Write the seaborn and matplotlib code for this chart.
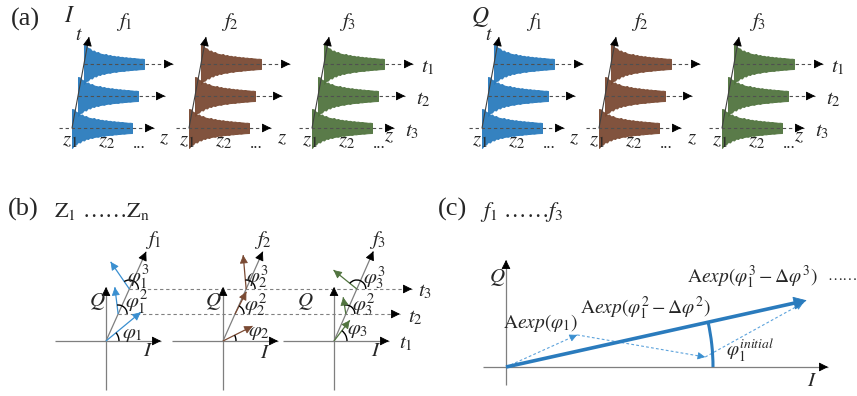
import matplotlib
matplotlib.use("Agg")
import numpy as np
import matplotlib.pyplot as plt
from matplotlib.patches import Arc
import seaborn as sns

sns.set_style("white")
plt.rcParams["font.family"] = ["Liberation Serif", "DejaVu Serif"]
plt.rcParams["mathtext.fontset"] = "stix"

W, H = 857, 396

# ---------------- values ----------------
channel_labels = ["$I$", "$Q$"]
freq_labels = ["$f_1$", "$f_2$", "$f_3$"]
time_labels = ["$t_1$", "$t_2$", "$t_3$"]
freq_colors = ["#2a7bbd", "#7a4a33", "#51743f"]
phasor_colors = ["#3a8fd0", "#7a4a33", "#51743f"]

# decaying echo envelope along z (half amplitude above / below the baseline), every 2 px
env_upper = [19, 18.5, 16, 15.5, 13, 13.5, 11.5, 12, 10.5, 10, 9.5, 10, 8.5, 9, 8,
             8.2, 7.4, 7.8, 7, 7.2, 6.5, 6.8, 6.2, 6.4, 5.8, 6, 5.6, 5.5, 5.2, 5.3, 5]
env_lower = [20, 17, 16.5, 14, 14.5, 12, 12.5, 10.5, 11, 9.5, 10, 9, 8.6, 8.8, 8,
             7.6, 7.9, 7.2, 7, 6.8, 6.9, 6.3, 6.4, 6, 5.9, 5.6, 5.7, 5.4, 5.2, 5.1, 5]

# phasor angle (deg) and length at t1, t2, t3 for f1, f2, f3
phase_deg = [[39.6, 97, 124.6], [26.6, 63, 95], [52.7, 99, 141]]
phase_len = [[45, 27, 33], [33, 25, 34], [26, 17, 30]]
phase_labels = [[r"$\varphi_1$", r"$\varphi_1^2$", r"$\varphi_1^3$"],
                [r"$\varphi_2$", r"$\varphi_2^2$", r"$\varphi_2^3$"],
                [r"$\varphi_3$", r"$\varphi_3^2$", r"$\varphi_3^3$"]]
freq_axis_deg = [65.8, 66.0, 66.3]

# coherent accumulation in (c)
step_deg = [24.3, -9.8, 28.9]
step_len = [78, 130, 112]
step_labels = [r"$\mathrm{A}exp(\varphi_1)$",
               r"$\mathrm{A}exp(\varphi_1^2-\Delta\varphi^2)$",
               r"$\mathrm{A}exp(\varphi_1^3-\Delta\varphi^3)$"]
resultant_deg = 12.5
resultant_len = 308

# ---------------- canvas ----------------
fig = plt.figure(figsize=(W / 100, H / 100), dpi=100)
ax = fig.add_axes([0, 0, 1, 1])
ax.set_xlim(0, W)
ax.set_ylim(0, H)
ax.set_axis_off()


def Y(y):
    return H - y


def head(x0, y0, x1, y1, color="black", size=12, z=5):
    d = np.hypot(x1 - x0, y1 - y0)
    ux, uy = (x1 - x0) / d, (y1 - y0) / d
    back = min(d, 6.0)
    ax.annotate("", xy=(x1, y1), xytext=(x1 - ux * back, y1 - uy * back),
                arrowprops=dict(arrowstyle="-|>,head_length=0.5,head_width=0.25",
                                color=color, lw=0.6, shrinkA=0, shrinkB=0,
                                mutation_scale=size),
                zorder=z)


def line(x0, y0, x1, y1, color, lw=0.9, ls="-", z=3):
    ax.plot([x0, x1], [y0, y1], color=color, lw=lw, ls=ls,
            solid_capstyle="butt", zorder=z)


def label(x, y, s, size=11, **kw):
    ax.text(x, Y(y), s, fontsize=size, ha="center", va="center", zorder=10, **kw)


DASH = (0, (3, 2.5))
GRAY = "#7f7f7f"

# ---------------- (a) echo traces ----------------
label(25, 19, "(a)", size=19)
half_dx = [0, 410]
group_foot = [72, 189, 312]
freq_label_x = [124, 230, 348]
baselines = [64, 96, 128]           # t1, t2, t3
arrow_end = [101, 93, 82]
time_label_pos = [(428, 68), (423, 100), (412, 132)]
z_end_dx = [92, 93, 77]
slant = 17 / 91

u = np.array(env_upper)
lo = np.array(env_lower)
for h, hx in enumerate(half_dx):
    label(hx + 70, 17, channel_labels[h], size=17)
    label(hx + 79, 36, "$t$", size=14)
    for k, (tx, ty) in enumerate(time_label_pos):
        label(hx + tx, ty, time_labels[k], size=15)
    for g, gx in enumerate(group_foot):
        foot = hx + gx
        col = freq_colors[g]
        label(hx + freq_label_x[g], 22, freq_labels[g], size=15)
        starts = [foot + slant * (128 - yb) for yb in baselines]
        for k, yb in enumerate(baselines):
            xs = starts[k] + 2 * np.arange(len(u))
            ax.fill_between(xs, Y(yb) - lo, Y(yb) + u, color=col, lw=0.7,
                            edgecolor=col, alpha=0.95, zorder=2)
        for k, yb in enumerate(baselines):
            x0 = starts[k] if k < 2 else foot - 13
            x1 = foot + arrow_end[k]
            line(x0, Y(yb), x1, Y(yb), "#505050", lw=0.8, ls=DASH, z=3)
            head(x1 - 5, Y(yb), x1, Y(yb), size=11)
        line(foot, Y(128), foot + 17, Y(37), "#404040", lw=0.8, z=4)
        head(foot, Y(128), foot + 17, Y(37), size=11)
        label(foot - 2, 141, "$z_1$", size=15)
        label(foot + 35, 142, "$z_2$", size=15)
        label(foot + 67, 144, "...", size=12)
        label(foot + z_end_dx[g], 139 if g < 2 else 137, "$z$", size=15)

# ---------------- (b) phasors per range cell ----------------
label(23, 209, "(b)", size=19)
label(102, 212, r"$\mathrm{Z}_1$ ……$\mathrm{Z}_\mathrm{n}$", size=16)
origins_x = [106, 223, 334]
oy = Y(341)
levels = [0, 27, 52]
q_label_x = [97, 213, 305]
f_label_x = [153, 263, 378]
phi_label_pos = [[(132, 335), (137, 302), (138, 277)],
                 [(259, 332), (256, 305), (257, 277)],
                 [(358, 331), (364, 305), (374, 278)]]
i_label_dy = [351, 354, 351]
arc_r = [13, 9, 9]

# shared time-level guides
fa0 = np.radians(freq_axis_deg[0])
for lvl, xend in zip(levels[1:], [400, 412]):
    xs = origins_x[0] + lvl / np.tan(fa0)
    line(xs, oy + lvl, xend, oy + lvl, "#808080", lw=0.8, ls=DASH, z=2)
    head(xend - 5, oy + lvl, xend, oy + lvl, size=11)
label(406, 344, time_labels[0], size=15)
label(415, 318, time_labels[1], size=15)
label(425, 292, time_labels[2], size=15)

for g, ox in enumerate(origins_x):
    line(ox - 51, oy, ox + 55, oy, GRAY)
    head(ox + 49, oy, ox + 55, oy, size=11)
    line(ox, oy - 49, ox, oy + 54, GRAY)
    head(ox, oy + 48, ox, oy + 54, size=11)
    fa = np.radians(freq_axis_deg[g])
    fx, fy = ox + 98 * np.cos(fa), oy + 98 * np.sin(fa)
    line(ox, oy, fx, fy, GRAY)
    head(ox, oy, fx, fy, size=11)
    label(f_label_x[g], 240, freq_labels[g], size=15)
    label(q_label_x[g], 301, "$Q$", size=15)
    label(ox + 42, i_label_dy[g], "$I$", size=15)
    for k, lvl in enumerate(levels):
        sx = ox + lvl / np.tan(fa)
        sy = oy + lvl
        a = np.radians(phase_deg[g][k])
        ex = sx + phase_len[g][k] * np.cos(a)
        ey = sy + phase_len[g][k] * np.sin(a)
        line(sx, sy, ex, ey, phasor_colors[g], lw=0.9, z=4)
        head(sx, sy, ex, ey, color=phasor_colors[g], size=10, z=6)
        ax.add_patch(Arc((sx, sy), 2 * arc_r[k], 2 * arc_r[k], theta1=0,
                         theta2=phase_deg[g][k], color="black", lw=1.0, zorder=5))
        px, py = phi_label_pos[g][k]
        label(px, py, phase_labels[g][k], size=15)

# ---------------- (c) coherent sum over frequencies ----------------
label(453, 209, "(c)", size=19)
label(522, 212, r"$f_1$ ……$f_3$", size=16)
cx, cy = 506, Y(367)
line(483, cy, 828, cy, GRAY)
head(820, cy, 828, cy, size=11)
line(cx, Y(385), cx, Y(260), GRAY)
head(cx, Y(268), cx, Y(260), size=11)
label(497, 278, "$Q$", size=15)
label(812, 381, "$I$", size=15)

px, py = cx, cy
for k in range(len(step_deg)):
    a = np.radians(step_deg[k])
    nx, ny = px + step_len[k] * np.cos(a), py + step_len[k] * np.sin(a)
    line(px, py, nx, ny, "#5da3dc", lw=0.8, ls=(0, (2.5, 2)), z=3)
    head(px, py, nx, ny, color="#3a8fd0", size=9, z=4)
    px, py = nx, ny

ra = np.radians(resultant_deg)
rx, ry = cx + resultant_len * np.cos(ra), cy + resultant_len * np.sin(ra)
line(cx, cy, rx - 8 * np.cos(ra), ry - 8 * np.sin(ra), "#2a7bbd", lw=2.6, z=5)
head(cx, cy, rx, ry, color="#2a7bbd", size=17, z=6)
ax.add_patch(Arc((cx, cy), 2 * 207, 2 * 207, theta1=0, theta2=resultant_deg,
                 color="#2a7bbd", lw=2.2, zorder=5))

label(541, 323, step_labels[0], size=14)
label(645, 308, step_labels[1], size=14)
label(752, 277, step_labels[2], size=14)
label(843, 277, "……", size=11)
label(750, 350, r"$\varphi_1^{initial}$", size=14)

fig.savefig("out.png", dpi=100)
